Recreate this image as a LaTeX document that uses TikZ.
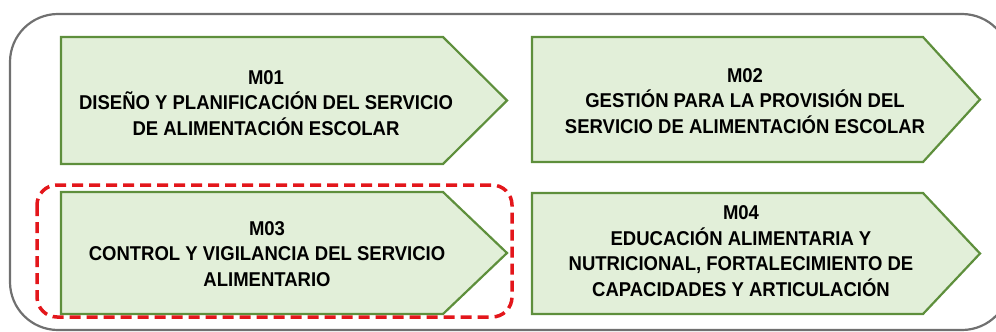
\documentclass[tikz,border=0pt]{standalone}
\usepackage{fontspec}
\setmainfont{Liberation Sans}[FakeStretch=0.925]
\definecolor{boxfill}{HTML}{E2EFD9}
\definecolor{boxline}{HTML}{5E8F3C}
\definecolor{outerline}{HTML}{707070}
\definecolor{redline}{HTML}{E3161B}
\begin{document}
\begin{tikzpicture}[x=1pt,y=-1pt,
  pent/.style={fill=boxfill,draw=boxline,line width=2.2pt,line join=miter},
  lbl/.style={font=\bfseries\fontsize{20}{25.5}\selectfont,align=center,text=black,inner sep=0pt}]
\useasboundingbox (0,0) rectangle (996,332);
\draw[outerline,line width=2.2pt,rounded corners=48pt] (10,14) rectangle (1010,330);
\draw[pent] (61,37) -- (443,37) -- (507,100.5) -- (443,164) -- (61,164) -- cycle;
\draw[pent] (532,37) -- (923,37) -- (980,99.5) -- (923,162) -- (532,162) -- cycle;
\draw[pent] (61,192) -- (443,192) -- (507,253) -- (443,314) -- (61,314) -- cycle;
\draw[pent] (532,193) -- (923,193) -- (980,253.5) -- (923,314) -- (532,314) -- cycle;
\draw[redline,line width=3.5pt,dash pattern=on 11pt off 6pt,rounded corners=20pt] (37,185) rectangle (512,317);
\node[lbl] (m01) at (266,103) {M01\\DISEÑO Y PLANIFICACIÓN DEL SERVICIO\\DE ALIMENTACIÓN ESCOLAR};
\node[lbl] (m02) at (745,101) {M02\\GESTIÓN PARA LA PROVISIÓN DEL\\SERVICIO DE ALIMENTACIÓN ESCOLAR};
\node[lbl] (m03) at (267,254) {M03\\CONTROL Y VIGILANCIA DEL SERVICIO\\ALIMENTARIO};
\node[lbl] (m04) at (741,251) {M04\\EDUCACIÓN ALIMENTARIA Y\\NUTRICIONAL, FORTALECIMIENTO DE\\CAPACIDADES Y ARTICULACIÓN};
\end{tikzpicture}
\end{document}
